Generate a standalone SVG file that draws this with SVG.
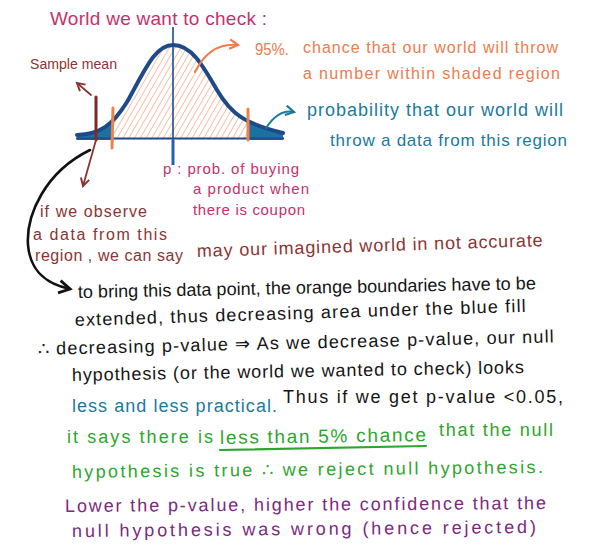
<svg xmlns="http://www.w3.org/2000/svg" width="592" height="548" viewBox="0 0 592 548">
<style>
text{font-family:"Liberation Sans","Noto Sans",sans-serif;}
.mag{fill:#c8306c;}
.org{fill:#f07b4c;}
.brn{fill:#8c3434;}
.teal{fill:#1a7a9c;}
.blk{fill:#151515;}
.grn{fill:#2ea52e;}
.pur{fill:#7b2a80;}
.conn{fill:none;stroke-linecap:round;stroke-linejoin:round;}
</style>
<defs>
<pattern id="hatch" width="5" height="5" patternUnits="userSpaceOnUse" patternTransform="rotate(30)">
<line x1="0" y1="0" x2="0" y2="5" stroke="#f2956a" stroke-width="1.2"/>
</pattern>
<clipPath id="under">
<path d="M77 135 C100 134,112 126,127 102 C145 70,155 45,173 45 C191 45,202 64,217 90 C231 114,245 124,283 133 L283 140 L77 140 Z"/>
</clipPath>
<marker id="ahB" viewBox="0 0 10 10" refX="8" refY="5" markerWidth="6" markerHeight="6" orient="auto"><path d="M1 1 L8 5 L1 9" fill="none" stroke="#111" stroke-width="1.8"/></marker>
<marker id="ahBr" viewBox="0 0 10 10" refX="8" refY="5" markerWidth="6" markerHeight="6" orient="auto"><path d="M1 1 L8 5 L1 9" fill="none" stroke="#8c3434" stroke-width="1.8"/></marker>
<marker id="ahO" viewBox="0 0 10 10" refX="8" refY="5" markerWidth="6" markerHeight="6" orient="auto"><path d="M1 1 L8 5 L1 9" fill="none" stroke="#f07b4c" stroke-width="1.8"/></marker>
<marker id="ahT" viewBox="0 0 10 10" refX="8" refY="5" markerWidth="6" markerHeight="6" orient="auto"><path d="M1 1 L8 5 L1 9" fill="none" stroke="#1a7a9c" stroke-width="1.8"/></marker>
</defs>
<rect width="592" height="548" fill="#fff"/>

<g id="bell-curve">
<g clip-path="url(#under)">
<rect x="77" y="40" width="36" height="100" fill="#1b72a0"/>
<rect x="247" y="40" width="36" height="100" fill="#1b72a0"/>
<rect x="113" y="40" width="134" height="100" fill="url(#hatch)"/>
</g>
<path d="M77 135 C100 134,112 126,127 102 C145 70,155 45,173 45 C191 45,202 64,217 90 C231 114,245 124,283 133" fill="none" stroke="#1f4a8a" stroke-width="4" stroke-linecap="round"/>
<line x1="76" y1="138.5" x2="284" y2="138.5" stroke="#1f4a8a" stroke-width="2"/>
<line x1="173" y1="27" x2="173" y2="142" stroke="#1f4a8a" stroke-width="1.6"/>
<line x1="173" y1="140" x2="173" y2="165" stroke="#2a5fb0" stroke-width="3"/>
<line x1="113" y1="108" x2="112" y2="148" stroke="#f0804c" stroke-width="3" stroke-linecap="round"/>
<line x1="248" y1="109" x2="248" y2="140" stroke="#f0804c" stroke-width="3" stroke-linecap="round"/>
<line x1="96" y1="97" x2="96" y2="140" stroke="#7a2a2a" stroke-width="3" stroke-linecap="round"/>
</g>

<g id="connectors">
<path class="conn" d="M91 95 L77 83" stroke="#8c3434" stroke-width="1.8" marker-end="url(#ahBr)"/>
<path class="conn" d="M96 140 L83 186" stroke="#8c3434" stroke-width="1.8" marker-end="url(#ahBr)"/>
<path class="conn" d="M195 72 C205 52,220 43,238 45" stroke="#f07b4c" stroke-width="2" marker-end="url(#ahO)"/>
<path class="conn" d="M266 128 C274 116,284 110,294 112" stroke="#1a7a9c" stroke-width="2" marker-end="url(#ahT)"/>
<path class="conn" d="M90 150 C45 172,26 215,28 245 C30 268,42 283,70 289" stroke="#111" stroke-width="2.6" marker-end="url(#ahB)"/>
</g>

<g id="title"><text class="mag" x="50" y="25" font-size="19" textLength="217" lengthAdjust="spacing">World we want to check :</text></g>
<g id="sample-mean"><text class="brn" x="30" y="69" font-size="15" textLength="87" lengthAdjust="spacingAndGlyphs">Sample mean</text></g>
<g id="note-95">
<text class="org" x="255" y="55" font-size="17" textLength="34" lengthAdjust="spacingAndGlyphs">95%.</text>
<text class="org" x="303" y="53" font-size="16" textLength="255" lengthAdjust="spacing">chance that our world will throw</text>
<text class="org" x="303" y="79" font-size="16" textLength="257" lengthAdjust="spacing">a number within shaded region</text>
</g>
<g id="note-tail">
<text class="teal" x="307" y="116" font-size="18" textLength="256" lengthAdjust="spacing">probability that our world will</text>
<text class="teal" x="330" y="146" font-size="17" textLength="237" lengthAdjust="spacing">throw a data from this region</text>
</g>
<g id="note-p">
<text class="mag" x="163" y="174" font-size="15" textLength="136" lengthAdjust="spacing">p : prob. of buying</text>
<text class="mag" x="193" y="194" font-size="15" textLength="116" lengthAdjust="spacing">a product when</text>
<text class="mag" x="193" y="215" font-size="15" textLength="112" lengthAdjust="spacing">there is coupon</text>
</g>
<g id="note-observe">
<text class="brn" x="40" y="217" font-size="16" textLength="107" lengthAdjust="spacing">if we observe</text>
<text class="brn" x="33" y="240" font-size="16" textLength="134" lengthAdjust="spacing">a data from this</text>
<text class="brn" x="35" y="261" font-size="16" textLength="148" lengthAdjust="spacing">region , we can say</text>
<text class="brn" x="197" y="257" font-size="18" textLength="346" lengthAdjust="spacing" transform="rotate(-1.8 197 257)">may our imagined world in not accurate</text>
</g>
<g id="explanation">
<text class="blk" x="78" y="298" font-size="18" textLength="458" lengthAdjust="spacing" transform="rotate(-1.1 78 298)">to bring this data point, the orange boundaries have to be</text>
<text class="blk" x="75" y="326" font-size="18" textLength="451" lengthAdjust="spacing" transform="rotate(-1.8 75 326)">extended, thus decreasing area under the blue fill</text>
<text class="blk" x="38" y="355" font-size="18" textLength="516" lengthAdjust="spacing" transform="rotate(-1.4 38 355)">∴ decreasing p-value ⇒ As we decrease p-value, our null</text>
<text class="blk" x="72" y="381" font-size="18" textLength="452" lengthAdjust="spacing" transform="rotate(-1 72 381)">hypothesis (or the world we wanted to check) looks</text>
<text class="teal" x="72" y="412" font-size="18" textLength="205" lengthAdjust="spacing">less and less practical.</text>
<text class="blk" x="283" y="403" font-size="18" textLength="280" lengthAdjust="spacing">Thus if we get p-value &lt;0.05,</text>
</g>
<g id="conclusion">
<text class="grn" x="67" y="443" font-size="18" textLength="146" lengthAdjust="spacing">it says there is</text>
<text class="grn" x="220" y="444" font-size="19" textLength="206" lengthAdjust="spacing" transform="rotate(-0.8 220 444)">less than 5% chance</text>
<line x1="220" y1="450" x2="426" y2="446" stroke="#2ea52e" stroke-width="2.2" stroke-linecap="round"/>
<text class="grn" x="439" y="436" font-size="18" textLength="114" lengthAdjust="spacing">that the null</text>
<text class="grn" x="72" y="478" font-size="18" textLength="471" lengthAdjust="spacing" transform="rotate(-0.6 72 478)">hypothesis is true ∴ we reject null hypothesis.</text>
</g>
<g id="confidence">
<text class="pur" x="65" y="512" font-size="18" textLength="481" lengthAdjust="spacing" transform="rotate(-0.35 65 512)">Lower the p-value, higher the confidence that the</text>
<text class="pur" x="72" y="537" font-size="18" textLength="464" lengthAdjust="spacing" transform="rotate(-0.5 72 537)">null hypothesis was wrong (hence rejected)</text>
</g>
</svg>
